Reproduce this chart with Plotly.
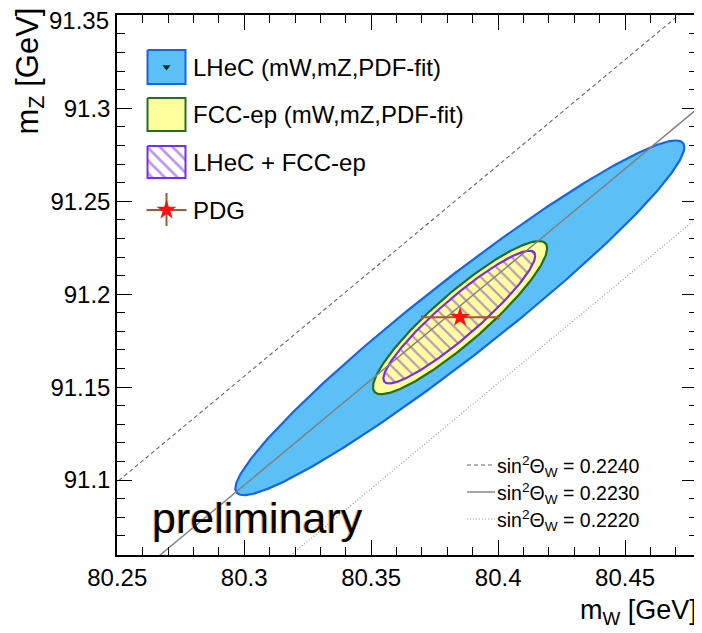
import numpy as np
import plotly.graph_objects as go

# ---------------- data ----------------
pdg_mW = 80.385
pdg_mZ = 91.1876
pdg_err_mW = 0.015
pdg_err_mZ = 0.0021

contour_names = ["LHeC (mW,mZ,PDF-fit)", "FCC-ep (mW,mZ,PDF-fit)", "LHeC + FCC-ep"]
contour_center_mW = [80.3849, 80.3850, 80.3847]
contour_center_mZ = [91.1873, 91.1874, 91.1877]
contour_sigma_mW = [0.0884, 0.0343, 0.0299]
contour_sigma_mZ = [0.0954, 0.0412, 0.0357]
contour_rho = [0.962, 0.905, 0.925]

sin2_labels = ["sin<sup>2</sup>Θ<sub>W</sub> = 0.2240",
               "sin<sup>2</sup>Θ<sub>W</sub> = 0.2230",
               "sin<sup>2</sup>Θ<sub>W</sub> = 0.2220"]
sin2_line_mW = [80.24, 80.49]
sin2_line_mZ = [[91.0877, 91.3716],
                [91.0292, 91.3129],
                [90.9707, 91.2542]]

x_tickvals = [80.25, 80.3, 80.35, 80.4, 80.45]
x_ticktext = ["80.25", "80.3", "80.35", "80.4", "80.45"]
y_tickvals = [91.1, 91.15, 91.2, 91.25, 91.3, 91.35]
y_ticktext = ["91.1", "91.15", "91.2", "91.25", "91.3", "91.35"]

# ---------------- style ----------------
FONT = "Liberation Sans, Arial, Helvetica, sans-serif"
OFF = 8                      # page body margin of the browser
W, H = 702 - OFF, 633 - OFF
ML, MR, MT, MB = 117 - OFF, 5, 15 - OFF, 78
XR = [80.2499, 80.4783]
YR = [91.0597, 91.3502]
PW, PH = W - ML - MR, H - MT - MB

BLUE_FILL, BLUE_LINE = "#5cbff5", "#1466e6"
YEL_FILL, YEL_LINE = "#ffff9e", "#22701c"
PURPLE = "#7a2ee0"
PDG_BAR = "#a6582e"
fills = [BLUE_FILL, YEL_FILL, None]
lines = [BLUE_LINE, YEL_LINE, PURPLE]


# helpers: positions given in screenshot pixels
def px_x(px):
    return XR[0] + (px - OFF - ML) / PW * (XR[1] - XR[0])


def px_y(py):
    return YR[1] - (py - OFF - MT) / PH * (YR[1] - YR[0])


def ppx(px):
    return (px - OFF - ML) / PW


def ppy(py):
    return (H - MB - (py - OFF)) / PH


fig = go.Figure()

# ---------------- contours ----------------
t = np.linspace(0, 2 * np.pi, 400)
for i in range(3):
    cx, cy = contour_center_mW[i], contour_center_mZ[i]
    sx, sy, r = contour_sigma_mW[i], contour_sigma_mZ[i], contour_rho[i]
    ex = cx + sx * np.cos(t)
    ey = cy + sy * (r * np.cos(t) + np.sqrt(1 - r * r) * np.sin(t))
    if fills[i] is not None:
        fig.add_trace(go.Scatter(x=ex, y=ey, mode="lines", fill="toself",
                                 fillcolor=fills[i],
                                 line=dict(color=lines[i], width=2.2),
                                 hoverinfo="skip"))
    else:
        fig.add_trace(go.Scatter(x=ex, y=ey, mode="lines", fill="toself",
                                 fillcolor="rgba(0,0,0,0)",
                                 fillpattern=dict(shape="\\", fgcolor=PURPLE,
                                                  bgcolor="rgba(0,0,0,0)",
                                                  size=9, solidity=0.25,
                                                  fillmode="overlay"),
                                 line=dict(color=PURPLE, width=2.2),
                                 hoverinfo="skip"))

# ---------------- sin^2 theta_W lines ----------------
line_styles = [dict(color="#666666", width=1.1, dash="4px,3px"),
               dict(color="#808080", width=1.4),
               dict(color="#9a9a9a", width=1.1, dash="1px,2px")]
for i in range(3):
    fig.add_trace(go.Scatter(x=sin2_line_mW, y=sin2_line_mZ[i], mode="lines",
                             line=line_styles[i], hoverinfo="skip"))

# ---------------- PDG point ----------------
fig.add_trace(go.Scatter(x=[pdg_mW], y=[pdg_mZ], mode="markers",
                         marker=dict(symbol="star", size=15, color="#ff1010",
                                     line=dict(width=0)),
                         error_x=dict(type="constant", value=pdg_err_mW,
                                      color=PDG_BAR, thickness=2, width=2),
                         error_y=dict(type="constant", value=pdg_err_mZ,
                                      color=PDG_BAR, thickness=2, width=0),
                         hoverinfo="skip"))

# ---------------- legend (main) ----------------
box_x0, box_x1 = 147.5, 185.5
box_rows = [(50, 84), (98, 131), (146, 178)]
for i, (y0, y1) in enumerate(box_rows):
    bx = [px_x(box_x0), px_x(box_x1), px_x(box_x1), px_x(box_x0), px_x(box_x0)]
    by = [px_y(y0), px_y(y0), px_y(y1), px_y(y1), px_y(y0)]
    if fills[i] is not None:
        fig.add_trace(go.Scatter(x=bx, y=by, mode="lines", fill="toself",
                                 fillcolor=fills[i],
                                 line=dict(color=lines[i], width=2),
                                 hoverinfo="skip"))
    else:
        fig.add_trace(go.Scatter(x=bx, y=by, mode="lines", fill="toself",
                                 fillcolor="white",
                                 fillpattern=dict(shape="\\", fgcolor=PURPLE,
                                                  bgcolor="white", size=9,
                                                  solidity=0.3),
                                 line=dict(color=PURPLE, width=2),
                                 hoverinfo="skip"))
# small marker in LHeC box
fig.add_trace(go.Scatter(x=[px_x(166.5)], y=[px_y(67)], mode="markers",
                         marker=dict(symbol="triangle-down", size=7, color="#10301a"),
                         hoverinfo="skip"))
# PDG legend entry
fig.add_trace(go.Scatter(x=[px_x(146.5), px_x(186.5)], y=[px_y(210), px_y(210)],
                         mode="lines", line=dict(color=PDG_BAR, width=2),
                         hoverinfo="skip"))
fig.add_trace(go.Scatter(x=[px_x(166.5), px_x(166.5)], y=[px_y(193), px_y(226)],
                         mode="lines", line=dict(color=PDG_BAR, width=2),
                         hoverinfo="skip"))
fig.add_trace(go.Scatter(x=[px_x(166.5)], y=[px_y(210)], mode="markers",
                         marker=dict(symbol="star", size=15, color="#ff1010"),
                         hoverinfo="skip"))

annotations = []
legend_text_y = [67, 114.5, 162, 210]
legend_texts = contour_names + ["PDG"]
for txt, yy in zip(legend_texts, legend_text_y):
    annotations.append(dict(x=ppx(191), y=ppy(yy), xref="paper", yref="paper",
                            text=txt, showarrow=False, xanchor="left",
                            yanchor="middle", font=dict(size=24, family=FONT,
                                                        color="black")))

# ---------------- legend (sin^2) ----------------
shapes = []
sin2_rows = [465, 492, 519]
for i, yy in enumerate(sin2_rows):
    st = line_styles[i]
    shapes.append(dict(type="line", xref="paper", yref="paper",
                       x0=ppx(467), x1=ppx(495), y0=ppy(yy), y1=ppy(yy),
                       line=dict(color=st["color"], width=st["width"],
                                 dash=st.get("dash", "solid"))))
    annotations.append(dict(x=ppx(495), y=ppy(yy + 1), xref="paper", yref="paper",
                            text=sin2_labels[i], showarrow=False,
                            xanchor="left", yanchor="middle",
                            font=dict(size=19.5, family=FONT, color="black")))

# ---------------- preliminary ----------------
annotations.append(dict(x=ppx(150), y=ppy(544), xref="paper", yref="paper",
                        text="preliminary", showarrow=False, xanchor="left",
                        yanchor="bottom", xshift=-1,
                        font=dict(size=43, family=FONT, color="#f4b060")))
annotations.append(dict(x=ppx(150), y=ppy(544), xref="paper", yref="paper",
                        text="preliminary", showarrow=False, xanchor="left",
                        yanchor="bottom",
                        font=dict(size=43, family=FONT, color="black")))

# ---------------- top y tick label (kept inside the page, as in the reference) ----
top_label = y_ticktext[-1]
y_ticktext_axis = y_ticktext[:-1] + [""]
annotations.append(dict(x=ppx(111), y=ppy(21), xref="paper", yref="paper",
                        text=top_label, showarrow=False, xanchor="right",
                        yanchor="middle",
                        font=dict(size=24, family=FONT, color="black")))

# ---------------- axis titles ----------------
annotations.append(dict(x=ppx(699), y=ppy(612), xref="paper", yref="paper",
                        text="m<sub>W</sub> [GeV]", showarrow=False,
                        xanchor="right", yanchor="middle",
                        font=dict(size=27, family=FONT, color="black")))
annotations.append(dict(x=ppx(29), y=ppy(6), xref="paper", yref="paper",
                        text="m<sub>Z</sub> [GeV]", showarrow=False,
                        textangle=-90, xanchor="center", yanchor="top",
                        font=dict(size=31, family=FONT, color="black")))

axis_common = dict(showgrid=False, zeroline=False, showline=True,
                   linecolor="black", linewidth=1.5, mirror="ticks",
                   ticks="inside", ticklen=15, tickwidth=1.2, tickcolor="black",
                   automargin=False, ticklabeloverflow="allow",
                   tickfont=dict(size=24, family=FONT, color="black"))

fig.update_layout(
    width=W, height=H,
    margin=dict(l=ML, r=MR, t=MT, b=MB, autoexpand=False),
    plot_bgcolor="white", paper_bgcolor="white",
    showlegend=False,
    font=dict(family=FONT, color="black"),
    xaxis=dict(range=XR, tickvals=x_tickvals, ticktext=x_ticktext,
               minor=dict(dtick=0.01, tick0=80.25, ticks="inside", ticklen=8,
                          tickwidth=1, tickcolor="black"),
               **axis_common),
    yaxis=dict(range=YR, tickvals=y_tickvals, ticktext=y_ticktext_axis,
               minor=dict(dtick=0.01, tick0=91.1, ticks="inside", ticklen=8,
                          tickwidth=1, tickcolor="black"),
               **axis_common),
    annotations=annotations,
    shapes=shapes,
)

fig.write_html("out.html")
